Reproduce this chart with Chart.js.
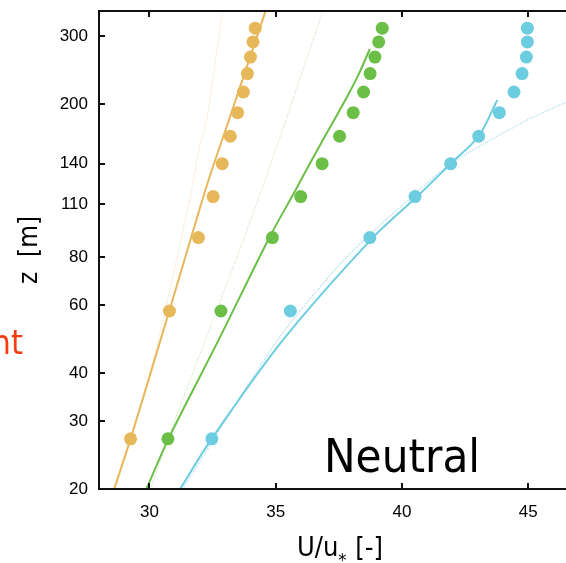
<!DOCTYPE html>
<html>
<head>
<meta charset="utf-8">
<script src="https://cdn.jsdelivr.net/npm/chart.js@4/dist/chart.umd.min.js"></script>
<style>
  html, body { margin: 0; padding: 0; background: #fff; overflow: hidden; }
  #wrap { width: 566px; height: 563px; }
</style>
</head>
<body>
<div id="wrap"><canvas id="profile" width="566" height="563"></canvas></div>
<script>
// measured heights (m) and normalised wind speed U/u*
const heights = [27, 58, 90, 115, 140, 165, 190, 215, 240, 265, 290, 315];
const orangeObs = [29.25, 30.79, 31.94, 32.52, 32.88, 33.20, 33.49, 33.72, 33.88, 34.00, 34.10, 34.19];
const greenObs = [30.73, 32.83, 34.87, 35.99, 36.84, 37.53, 38.07, 38.48, 38.74, 38.93, 39.08, 39.22];
const cyanObs = [32.47, 35.58, 38.73, 40.52, 41.93, 43.04, 43.86, 44.44, 44.76, 44.93, 44.97, 44.97];

// model profiles (solid)
const orangeModelZ = [20, 27, 48.8, 90, 127, 182, 349];
const orangeModelU = [28.6, 29.25, 30.44, 31.65, 32.34, 33.15, 34.6];
const greenModelZ = [20, 27, 48.8, 90, 120, 140, 165, 190, 215, 240, 278];
const greenModelU = [29.88, 30.75, 32.74, 34.75, 35.8, 36.35, 36.95, 37.48, 37.93, 38.3, 38.73];
const cyanModelZ = [20, 27, 48.8, 90, 115, 140, 165, 205];
const cyanModelU = [31.21, 32.46, 35.29, 38.85, 40.6, 41.93, 43.04, 43.78];

// second model (dotted)
const orangeAltZ = [20, 41.5, 112.6, 154.6, 182, 349];
const orangeAltU = [28.65, 30.08, 31.59, 31.98, 32.26, 32.9];
const greenAltZ = [20, 31.5, 48.8, 119.6, 349];
const greenAltU = [30.04, 31.11, 32.22, 34.44, 36.87];
const cyanAltZ = [20, 48.8, 75, 90, 115, 140, 155.6, 166.6, 185, 202.4];
const cyanAltU = [31.31, 35.08, 37.41, 38.6, 40.4, 41.93, 43.1, 43.89, 45.2, 46.51];

const xTicks = [30, 35, 40, 45];
const yTicks = [20, 30, 40, 60, 80, 110, 140, 200, 300];

const ORANGE = '#e7b85a';
const GREEN = '#6bbf47';
const CYAN = '#6ccde0';

const pairs = (us, zs) => us.map((u, i) => ({ x: u, y: zs[i] }));

function obsSet(us, color) {
  return {
    data: pairs(us, heights),
    showLine: false,
    pointRadius: 6.5,
    pointHoverRadius: 6.5,
    pointBackgroundColor: color,
    pointBorderWidth: 0
  };
}

function lineSet(us, zs, color, width, dash) {
  return {
    data: pairs(us, zs),
    showLine: true,
    pointRadius: 0,
    borderColor: color,
    borderWidth: width,
    borderDash: dash || [],
    tension: 0.3,
    fill: false
  };
}

// no extra room for edge labels, the plot box is fixed
function noPadding(s) {
  s.paddingTop = 0; s.paddingBottom = 0;
  s.paddingLeft = 0; s.paddingRight = 0;
}

// frame with inward ticks, plus text annotations
const framePlugin = {
  id: 'frame',
  afterDraw(chart) {
    const { ctx, chartArea: a, scales } = chart;
    ctx.save();
    ctx.strokeStyle = '#111';
    ctx.lineWidth = 2;
    ctx.beginPath();
    ctx.moveTo(a.right, a.top); ctx.lineTo(a.left, a.top);
    ctx.lineTo(a.left, a.bottom); ctx.lineTo(a.right, a.bottom);
    xTicks.forEach(v => {
      const px = Math.round(scales.x.getPixelForValue(v));
      ctx.moveTo(px, a.bottom); ctx.lineTo(px, a.bottom - 6);
      ctx.moveTo(px, a.top); ctx.lineTo(px, a.top + 6);
    });
    yTicks.forEach(v => {
      const py = Math.round(scales.y.getPixelForValue(v));
      ctx.moveTo(a.left, py); ctx.lineTo(a.left + 6, py);
    });
    ctx.stroke();

    ctx.fillStyle = '#000';
    ctx.textBaseline = 'alphabetic';
    ctx.textAlign = 'left';
    ctx.font = '47px "DejaVu Sans Condensed"';
    ctx.fillText('Neutral', 324, 472);

    // x title with subscript star
    ctx.font = '27px "DejaVu Sans Condensed"';
    let x = 297;
    ctx.fillText('U/u', x, 556);
    x += ctx.measureText('U/u').width;
    ctx.font = '18px "DejaVu Sans Condensed"';
    ctx.fillText('*', x, 566);
    x += ctx.measureText('*').width + 1;
    ctx.font = '27px "DejaVu Sans Condensed"';
    ctx.fillText(' [-]', x, 556);

    // z title
    ctx.save();
    ctx.translate(37, 250);
    ctx.rotate(-Math.PI / 2);
    ctx.textAlign = 'center';
    ctx.font = '26px "DejaVu Sans Condensed"';
    ctx.fillText('z  [m]', 0, 0);
    ctx.restore();

    // cut-off label from neighbouring panel
    ctx.fillStyle = '#f23d12';
    ctx.textAlign = 'right';
    ctx.font = '34px "DejaVu Sans Condensed"';
    ctx.fillText('nt', 23, 354);
    ctx.restore();
  }
};

new Chart(document.getElementById('profile'), {
  type: 'scatter',
  data: {
    datasets: [
      obsSet(orangeObs, ORANGE),
      obsSet(greenObs, GREEN),
      obsSet(cyanObs, CYAN),
      lineSet(orangeModelU, orangeModelZ, ORANGE, 2),
      lineSet(greenModelU, greenModelZ, GREEN, 2),
      lineSet(cyanModelU, cyanModelZ, CYAN, 2),
      lineSet(orangeAltU, orangeAltZ, 'rgba(236, 190, 110, 0.6)', 1, [1, 1.5]),
      lineSet(greenAltU, greenAltZ, 'rgba(150, 205, 120, 0.65)', 1, [1, 1.5]),
      lineSet(cyanAltU, cyanAltZ, 'rgba(120, 200, 222, 0.8)', 1.2, [1, 1.5])
    ]
  },
  options: {
    responsive: false,
    animation: false,
    devicePixelRatio: 1,
    layout: { autoPadding: false, padding: { top: 11, right: 0, bottom: 0, left: 0 } },
    plugins: { legend: { display: false }, tooltip: { enabled: false } },
    scales: {
      x: {
        type: 'linear',
        min: 28,
        max: 46.5,
        afterBuildTicks: s => { s.ticks = xTicks.map(v => ({ value: v })); },
        afterFit: s => { s.height = 74; noPadding(s); },
        grid: { display: false, drawTicks: false },
        border: { display: false },
        ticks: {
          padding: 13,
          color: '#000',
          font: { family: 'Liberation Sans', size: 17 },
          callback: v => v
        }
      },
      y: {
        type: 'logarithmic',
        min: 20,
        max: 349,
        afterBuildTicks: s => { s.ticks = yTicks.map(v => ({ value: v })); },
        afterFit: s => { s.width = 99; noPadding(s); },
        grid: { display: false, drawTicks: false },
        border: { display: false },
        ticks: {
          padding: 11,
          color: '#000',
          font: { family: 'Liberation Sans', size: 17 },
          callback: v => v
        }
      }
    }
  },
  plugins: [framePlugin]
});
</script>
</body>
</html>
